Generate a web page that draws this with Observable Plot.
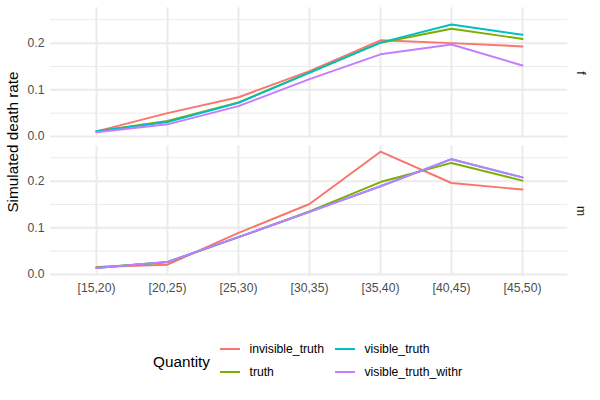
<!DOCTYPE html>
<html>
<head>
<meta charset="utf-8">
<script src="https://cdn.jsdelivr.net/npm/d3@7"></script>
<script src="https://cdn.jsdelivr.net/npm/@observablehq/plot@0.6"></script>
<style>
  html, body { margin: 0; padding: 0; background: #ffffff; }
  #wrap { position: relative; width: 600px; height: 400px; font-family: "Liberation Sans", Arial, sans-serif; overflow: hidden; }
  #chart { position: absolute; left: 0; top: 0; }
  .ytitle { position: absolute; left: 13.3px; top: 141.5px; transform: translate(-50%, -50%) rotate(-90deg); font-size: 15.3px; color: #000; white-space: nowrap; }
  .ltitle { position: absolute; left: 153px; top: 362px; transform: translateY(-50%); font-size: 15.3px; color: #000; white-space: nowrap; }
  .lkey { position: absolute; width: 20px; height: 2px; transform: translateY(-50%); }
  .llab { position: absolute; font-size: 12.2px; color: #000; transform: translateY(-50%); white-space: nowrap; }
</style>
</head>
<body>
<div id="wrap">
  <div id="chart"></div>
  <div class="ytitle">Simulated death rate</div>
  <div id="legend"></div>
</div>
<script>
const categories = ["[15,20)", "[20,25)", "[25,30)", "[30,35)", "[35,40)", "[40,45)", "[45,50)"];
const sexes = ["f", "m"];
const series = ["invisible_truth", "truth", "visible_truth", "visible_truth_withr"];
const colors = ["#F8766D", "#7CAE00", "#00BFC4", "#C77CFF"];
const yTicks = [0, 0.1, 0.2];
const yMinorTicks = [0.05, 0.15, 0.25];

// panel f
const f_invisible_truth     = [0.011, 0.050, 0.084, 0.140, 0.206, 0.200, 0.193];
const f_truth               = [0.011, 0.033, 0.073, 0.137, 0.201, 0.231, 0.209];
const f_visible_truth       = [0.011, 0.031, 0.072, 0.137, 0.201, 0.240, 0.218];
const f_visible_truth_withr = [0.009, 0.026, 0.065, 0.123, 0.176, 0.197, 0.152];
// panel m
const m_invisible_truth     = [0.016, 0.021, 0.089, 0.151, 0.263, 0.196, 0.182];
const m_truth               = [0.015, 0.026, 0.080, 0.135, 0.198, 0.239, 0.201];
const m_visible_truth       = [0.014, 0.027, 0.080, 0.134, 0.189, 0.247, 0.208];
const m_visible_truth_withr = [0.014, 0.027, 0.080, 0.134, 0.189, 0.247, 0.208];

const table = {
  f: [f_invisible_truth, f_truth, f_visible_truth, f_visible_truth_withr],
  m: [m_invisible_truth, m_truth, m_visible_truth, m_visible_truth_withr]
};

const tidy = [];
for (const s of sexes) {
  series.forEach((q, qi) => {
    categories.forEach((c, ci) => {
      tidy.push({sex: s, series: q, age: c, value: table[s][qi][ci]});
    });
  });
}

const ext = d3.extent(tidy, d => d.value);
const pad = (ext[1] - ext[0]) * 0.05;
const yDomain = [ext[0] - pad, ext[1] + pad];

const gridColor = "#EBEBEB";

const chart = Plot.plot({
  width: 600,
  height: 310,
  marginLeft: 50,
  marginRight: 32.7,
  marginTop: 7.3,
  marginBottom: 34.3,
  style: {fontFamily: "'Liberation Sans', Arial, sans-serif", fontSize: "12.2px", color: "#4D4D4D", background: "transparent"},
  x: {type: "point", domain: categories, padding: 0.6, label: null, tickSize: 0, tickPadding: 7},
  y: {domain: yDomain, ticks: yTicks, tickFormat: d3.format(".1f"), label: null, tickSize: 0, tickPadding: 6},
  fy: {domain: sexes, paddingInner: 0.055, paddingOuter: 0, round: false, axis: null, label: null},
  color: {domain: series, range: colors},
  marks: [
    Plot.ruleY(yMinorTicks, {stroke: gridColor, strokeOpacity: 1, strokeWidth: 1}),
    Plot.ruleY(yTicks, {stroke: gridColor, strokeOpacity: 1, strokeWidth: 2}),
    Plot.ruleX(categories, {stroke: gridColor, strokeOpacity: 1, strokeWidth: 2}),
    Plot.line(tidy, {x: "age", y: "value", z: "series", stroke: "series", fy: "sex", strokeWidth: 1.97}),
    Plot.text(sexes, {fy: d => d, text: d => d, frameAnchor: "right", dx: 13, rotate: 90, textAnchor: "middle", lineAnchor: "middle", fill: "#1A1A1A", fontSize: 12.2})
  ]
});
document.getElementById("chart").appendChild(chart);

// legend
const legend = document.getElementById("legend");
const lt = document.createElement("div");
lt.className = "ltitle";
lt.textContent = "Quantity";
legend.appendChild(lt);
const keyX = [220, 335];
const labX = [249.5, 364.5];
const rowY = [349, 372.3];
series.forEach((q, i) => {
  const col = Math.floor(i / 2), row = i % 2;
  const k = document.createElement("div");
  k.className = "lkey";
  k.style.left = keyX[col] + "px";
  k.style.top = rowY[row] + "px";
  k.style.background = colors[i];
  legend.appendChild(k);
  const l = document.createElement("div");
  l.className = "llab";
  l.style.left = labX[col] + "px";
  l.style.top = rowY[row] + "px";
  l.textContent = q;
  legend.appendChild(l);
});
</script>
</body>
</html>
